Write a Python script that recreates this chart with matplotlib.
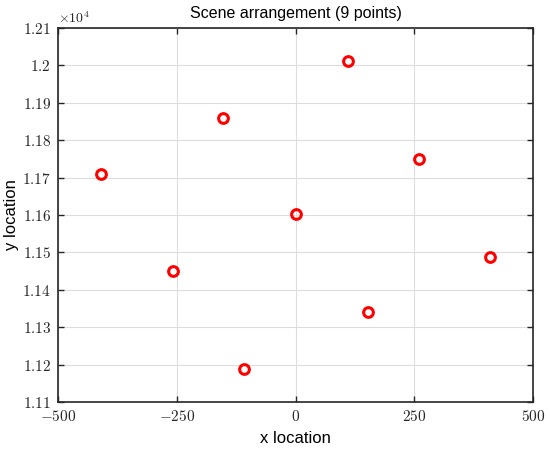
import numpy as np
import matplotlib
matplotlib.use('Agg')
import matplotlib.pyplot as plt
from matplotlib.ticker import FuncFormatter

# Положения точек сцены
x_loc = [-410, -258, -152, -108, 1, 110, 152, 260, 409]
y_loc = [11710, 11450, 11859, 11188, 11603, 12012, 11341, 11750, 11488]

x_ticks = [-500, -250, 0, 250, 500]
y_ticks = [11100, 11200, 11300, 11400, 11500, 11600, 11700, 11800, 11900, 12000, 12100]

plt.rcParams['font.family'] = ['Liberation Sans', 'DejaVu Sans']
plt.rcParams['mathtext.fontset'] = 'cm'

fig = plt.figure(figsize=(5.5, 4.53), dpi=100)
ax = fig.add_axes([0.1055, 0.1126, 0.8636, 0.8256])

ax.plot(x_loc, y_loc, linestyle='none', marker='o', markersize=7,
        markerfacecolor='none', markeredgecolor='#ff0000', markeredgewidth=2.2,
        zorder=3)

ax.set_xlim(-500, 500)
ax.set_ylim(11100, 12100)
ax.set_xticks(x_ticks)
ax.set_yticks(y_ticks)
ax.xaxis.set_major_formatter(FuncFormatter(lambda v, p: f'${v:g}$'))
ax.yaxis.set_major_formatter(FuncFormatter(lambda v, p: f'${v / 1e4:.4g}$'))

ax.grid(True, color='#dddddd', linewidth=0.8)
ax.set_axisbelow(True)
for s in ax.spines.values():
    s.set_color('#262626')
    s.set_linewidth(1.2)
ax.tick_params(direction='in', top=True, right=True, length=4, width=1,
               color='#262626', labelsize=11, labelcolor='#262626', pad=5)

ax.text(0.0, 1.005, r'$\times 10^4$', transform=ax.transAxes, fontsize=10,
        color='#262626', ha='left', va='bottom')
ax.set_title('Scene arrangement (9 points)', fontsize=11.5, pad=7)
ax.set_xlabel('x location', fontsize=12, labelpad=5)
ax.set_ylabel('y location', fontsize=12, labelpad=2)

fig.savefig('out.png', dpi=100)
